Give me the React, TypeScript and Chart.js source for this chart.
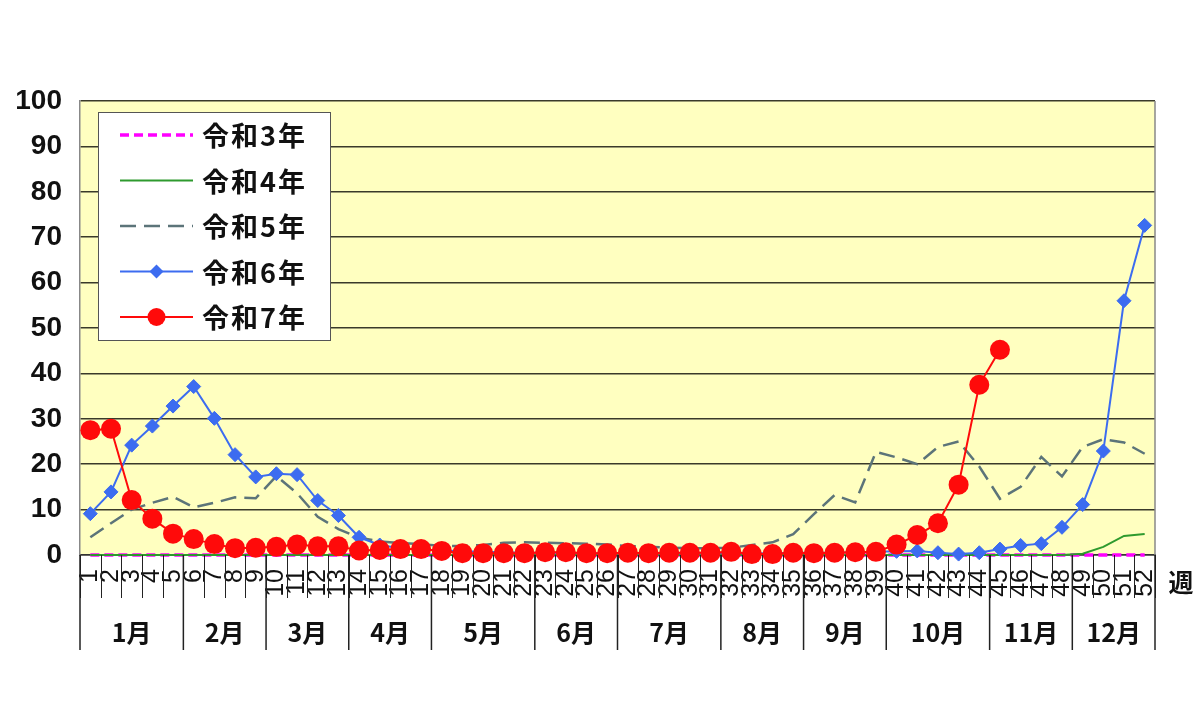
import React, { useEffect, useRef } from "react";
import { Chart, registerables } from "chart.js";

Chart.register(...registerables);

// ---- data ----
const weekLabels = [
  "1", "2", "3", "4", "5", "6", "7", "8", "9", "10",
  "11", "12", "13", "14", "15", "16", "17", "18", "19", "20",
  "21", "22", "23", "24", "25", "26", "27", "28", "29", "30",
  "31", "32", "33", "34", "35", "36", "37", "38", "39", "40",
  "41", "42", "43", "44", "45", "46", "47", "48", "49", "50",
  "51", "52",
];

const monthLabels = ["1月", "2月", "3月", "4月", "5月", "6月", "7月", "8月", "9月", "10月", "11月", "12月"];
const monthWeekCounts = [5, 4, 4, 4, 5, 4, 5, 4, 4, 5, 4, 4];

const seriesNames = ["令和3年", "令和4年", "令和5年", "令和6年", "令和7年"];

const r3 = [
  0, 0, 0, 0, 0, 0, 0, 0, 0, 0,
  0, 0, 0, 0, 0, 0, 0, 0, 0, 0,
  0, 0, 0, 0, 0, 0, 0, 0, 0, 0,
  0, 0, 0, 0, 0, 0, 0, 0, 0, 0,
  0, 0, 0, 0, 0, 0, 0, 0, 0, 0,
  0, 0,
];

const r4 = [
  0, 0, 0, 0, 0, 0, 0, 0, 0, 0,
  0, 0, 0, 0, 0, 0, 0, 0, 0, 0,
  0, 0, 0, 0, 0, 0, 0, 0, 0, 0,
  0, 0, 0, 0, 0, 0, 0, 0, 0, 0,
  0, 0, 0, 0, 0, 0, 0, 0, 0.3, 1.8,
  4.2, 4.6,
];

const r5 = [
  3.9, 7.0, 10.0, 11.5, 12.8, 10.5, 11.5, 12.7, 12.5, 17.4,
  13.6, 8.4, 5.7, 3.8, 3.0, 2.6, 2.4, 2.0, 2.0, 2.2,
  2.7, 2.8, 2.7, 2.6, 2.5, 2.3, 2.0, 1.8, 1.6, 1.5,
  1.5, 1.6, 2.2, 2.8, 4.6, 9.0, 13.2, 11.6, 22.7, 21.5,
  20.0, 23.8, 25.0, 19.5, 12.4, 15.0, 21.6, 17.3, 23.8, 25.5,
  24.8, 22.3,
];

const r6 = [
  9.1, 13.9, 24.2, 28.4, 32.8, 37.1, 30.1, 22.1, 17.2, 17.9,
  17.7, 12.0, 8.7, 3.9, 2.2, 1.5, 1.2, 1.0, 0.8, 0.7,
  0.6, 0.5, 0.5, 0.5, 0.4, 0.4, 0.4, 0.4, 0.4, 0.4,
  0.4, 0.4, 0.4, 0.4, 0.5, 0.5, 0.5, 0.6, 0.7, 0.8,
  0.9, 0.5, 0.2, 0.5, 1.3, 2.1, 2.5, 6.1, 11.1, 22.9,
  56.0, 72.6,
];

const r7 = [
  27.5, 27.8, 12.1, 8.0, 4.7, 3.5, 2.4, 1.5, 1.6, 1.8,
  2.3, 1.9, 1.9, 1.0, 1.1, 1.3, 1.3, 0.9, 0.4, 0.4,
  0.4, 0.4, 0.6, 0.6, 0.4, 0.4, 0.5, 0.4, 0.5, 0.5,
  0.5, 0.7, 0.2, 0.2, 0.5, 0.4, 0.5, 0.6, 0.7, 2.3,
  4.4, 7.0, 15.5, 37.5, 45.2, null, null, null, null, null,
  null, null,
];

const yTicks = [0, 10, 20, 30, 40, 50, 60, 70, 80, 90, 100];
const axisUnit = "週";

// ---- plugins ----
const JP_FONT = '"Noto Sans CJK JP", "Noto Sans", sans-serif';

const plotBackground = {
  id: "plotBackground",
  beforeDraw(chart: any) {
    const { ctx, chartArea: ca } = chart;
    ctx.save();
    ctx.fillStyle = "#FFFFC0";
    ctx.fillRect(ca.left, ca.top, ca.right - ca.left, ca.bottom - ca.top);
    ctx.restore();
  },
};

const axisDecor = {
  id: "axisDecor",
  afterDraw(chart: any) {
    const { ctx, chartArea: ca } = chart;
    const xs = chart.scales.x;
    const half = (xs.getPixelForValue(1) - xs.getPixelForValue(0)) / 2;
    const boundary = (i: number) =>
      i < weekLabels.length ? xs.getPixelForValue(i) - half : xs.getPixelForValue(weekLabels.length - 1) + half;
    ctx.save();
    // right border of plot
    ctx.strokeStyle = "#888";
    ctx.lineWidth = 1.5;
    ctx.beginPath();
    ctx.moveTo(ca.right, ca.top);
    ctx.lineTo(ca.right, ca.bottom);
    ctx.stroke();

    // week separators
    ctx.strokeStyle = "#222";
    ctx.lineWidth = 1;
    for (let i = 0; i <= weekLabels.length; i++) {
      const x = Math.round(boundary(i)) + 0.5;
      ctx.beginPath();
      ctx.moveTo(x, ca.bottom);
      ctx.lineTo(x, ca.bottom + 43);
      ctx.stroke();
    }
    // month separators + labels
    ctx.lineWidth = 1.5;
    let w = 0;
    ctx.fillStyle = "#111";
    ctx.font = `bold 25px ${JP_FONT}`;
    ctx.textAlign = "center";
    ctx.textBaseline = "middle";
    for (let m = 0; m <= monthWeekCounts.length; m++) {
      const x = boundary(w);
      ctx.beginPath();
      ctx.moveTo(x, ca.bottom);
      ctx.lineTo(x, ca.bottom + 95);
      ctx.stroke();
      if (m < monthWeekCounts.length) {
        const x2 = boundary(w + monthWeekCounts[m]);
        ctx.fillText(monthLabels[m], (x + x2) / 2, ca.bottom + 77);
        w += monthWeekCounts[m];
      }
    }
    // unit label
    ctx.textAlign = "center";
    ctx.fillText(axisUnit, ca.right + 26, ca.bottom + 27);

    // legend box
    const bx = ca.left + 18;
    const by = ca.top + 11;
    const bw = 232;
    const bh = 228;
    ctx.fillStyle = "#ffffff";
    ctx.fillRect(bx, by, bw, bh);
    ctx.strokeStyle = "#555";
    ctx.lineWidth = 1;
    ctx.strokeRect(bx + 0.5, by + 0.5, bw, bh);
    chart.data.datasets.forEach((ds: any, i: number) => {
      const cy = by + 23 + i * 45.5;
      const x0 = bx + 22;
      const x1 = bx + 95;
      ctx.save();
      ctx.setLineDash(ds.borderDash || []);
      ctx.strokeStyle = ds.borderColor;
      ctx.lineWidth = ds.borderWidth;
      ctx.beginPath();
      ctx.moveTo(x0, cy);
      ctx.lineTo(x1, cy);
      ctx.stroke();
      ctx.setLineDash([]);
      const mx = (x0 + x1) / 2;
      if (ds.pointRadius > 0) {
        ctx.fillStyle = ds.pointBackgroundColor;
        ctx.beginPath();
        if (ds.pointStyle === "rectRot") {
          const r = ds.pointRadius;
          ctx.moveTo(mx, cy - r);
          ctx.lineTo(mx + r, cy);
          ctx.lineTo(mx, cy + r);
          ctx.lineTo(mx - r, cy);
          ctx.closePath();
        } else {
          ctx.arc(mx, cy, ds.pointRadius - 1, 0, Math.PI * 2);
        }
        ctx.fill();
      }
      ctx.restore();
      ctx.fillStyle = "#111";
      ctx.font = `bold 27px ${JP_FONT}`;
      ctx.textAlign = "left";
      ctx.textBaseline = "middle";
      (ctx as any).letterSpacing = "2px";
      ctx.fillText(ds.label, bx + 104, cy + 1);
      (ctx as any).letterSpacing = "0px";
    });
    ctx.restore();
  },
};

export default function App() {
  const ref = useRef<HTMLCanvasElement>(null);
  useEffect(() => {
    if (!ref.current) return;
    const chart = new Chart(ref.current, {
      type: "line",
      data: {
        labels: weekLabels,
        datasets: [
          {
            label: seriesNames[0],
            data: r3,
            borderColor: "#FF00FF",
            backgroundColor: "#FF00FF",
            borderWidth: 3.5,
            borderDash: [9, 5],
            pointRadius: 0,
            order: 5,
          },
          {
            label: seriesNames[1],
            data: r4,
            borderColor: "#2E9A2E",
            backgroundColor: "#2E9A2E",
            borderWidth: 2,
            pointRadius: 0,
            order: 4,
          },
          {
            label: seriesNames[2],
            data: r5,
            borderColor: "#5C7479",
            backgroundColor: "#5C7479",
            borderWidth: 2.5,
            borderDash: [16, 8],
            pointRadius: 0,
            order: 3,
          },
          {
            label: seriesNames[3],
            data: r6,
            borderColor: "#3C6CF0",
            backgroundColor: "#3C6CF0",
            borderWidth: 2,
            pointStyle: "rectRot",
            pointRadius: 7,
            pointBackgroundColor: "#3C6CF0",
            pointBorderColor: "#3C6CF0",
            pointBorderWidth: 1,
            order: 2,
          },
          {
            label: seriesNames[4],
            data: r7,
            borderColor: "#FF0A0A",
            backgroundColor: "#FF0A0A",
            borderWidth: 2,
            pointStyle: "circle",
            pointRadius: 10,
            pointBackgroundColor: "#FF0A0A",
            pointBorderColor: "#FF0A0A",
            pointBorderWidth: 0,
            order: 1,
          },
        ] as any,
      },
      options: {
        animation: false,
        responsive: true,
        maintainAspectRatio: false,
        events: [],
        clip: false as any,
        layout: { padding: { top: 101, left: 10, right: 45, bottom: 110 } },
        plugins: {
          legend: { display: false },
          tooltip: { enabled: false },
          title: { display: false },
        },
        elements: { line: { tension: 0 } },
        scales: {
          x: {
            type: "category",
            offset: true,
            grid: { display: false },
            border: { display: true, color: "#333", width: 1.5 },
            ticks: {
              autoSkip: false,
              minRotation: 90,
              maxRotation: 90,
              padding: 6,
              color: "#111",
              font: { family: '"Liberation Sans", Arial, sans-serif', size: 25 },
            },
            afterFit: (scale: any) => {
              scale.height = 55;
            },
          },
          y: {
            min: 0,
            max: 100,
            afterBuildTicks: (scale: any) => {
              scale.ticks = yTicks.map((v) => ({ value: v }));
            },
            grid: { color: "#3a3a2a", lineWidth: 1.5, drawTicks: false },
            border: { display: true, color: "#888", width: 1.5 },
            ticks: {
              padding: 18,
              color: "#111",
              font: { family: '"Liberation Sans", Arial, sans-serif', size: 28, weight: "bold" },
            },
            afterFit: (scale: any) => {
              scale.width = 70;
            },
          },
        },
      } as any,
      plugins: [plotBackground, axisDecor],
    });
    return () => chart.destroy();
  }, []);
  return (
    <div style={{ position: "fixed", left: 0, top: 0, width: 1200, height: 720, background: "#fff" }}>
      <canvas ref={ref} />
    </div>
  );
}
